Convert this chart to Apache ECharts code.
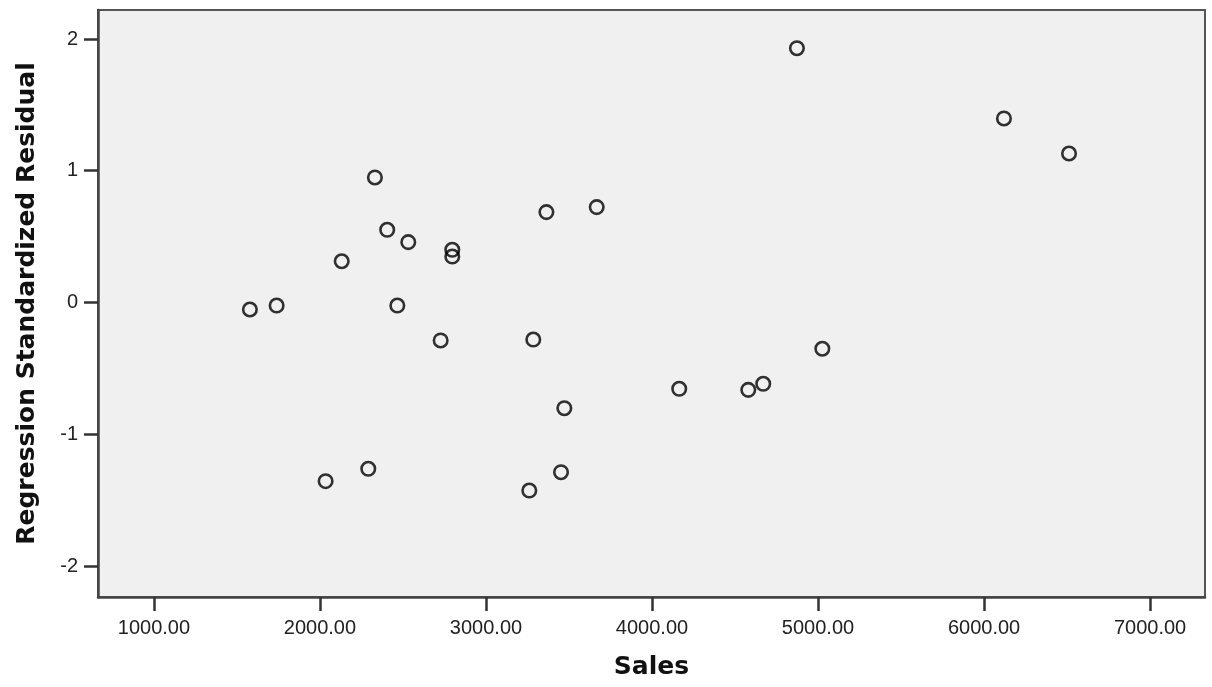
<!DOCTYPE html>
<html>
<head>
<meta charset="utf-8">
<script src="https://cdn.jsdelivr.net/npm/echarts@6/dist/echarts.min.js"></script>
<style>
html,body{margin:0;padding:0;background:#fff;}
#chart{width:1212px;height:687px;}
</style>
</head>
<body>
<div id="chart"></div>
<script>
// Data
const sales = [4873, 6120, 6512, 2331, 2405, 2532, 2797, 2797, 2131, 3364, 3667,
               1578, 1739, 2466, 2727, 3285, 3472, 3452, 3261, 4164, 4580, 4670, 5026, 2034, 2291];
const residuals = [1.93, 1.397, 1.131, 0.949, 0.552, 0.458, 0.40, 0.349, 0.313, 0.686, 0.724,
                   -0.053, -0.023, -0.023, -0.288, -0.281, -0.802, -1.288, -1.427, -0.655, -0.663, -0.617, -0.351, -1.356, -1.262];
const xTicks = [1000, 2000, 3000, 4000, 5000, 6000, 7000];
const yTicks = [-2, -1, 0, 1, 2];
const xTitle = 'Sales';
const yTitle = 'Regression Standardized Residual';

const points = sales.map((s, i) => [s, residuals[i]]);

const chart = echarts.init(document.getElementById('chart'));
const tickStyle = { color: '#333', width: 2.5 };
chart.setOption({
  animation: false,
  grid: {
    left: 98, top: 10, width: 1107, height: 587,
    show: true, backgroundColor: '#f0f0f0', borderColor: '#555', borderWidth: 2
  },
  xAxis: {
    type: 'value', min: 663, max: 7331,
    name: xTitle, nameLocation: 'middle', nameGap: 58,
    nameTextStyle: { fontFamily: 'DejaVu Sans', fontWeight: 'bold', fontSize: 25, color: '#111' },
    axisLine: { show: true, onZero: false, lineStyle: { color: '#444', width: 2.5 } },
    axisTick: { show: true, inside: false, length: 14, lineStyle: tickStyle, customValues: xTicks },
    axisLabel: { margin: 21, fontFamily: 'Liberation Sans', fontSize: 20, color: '#222',
                 customValues: xTicks, formatter: v => v.toFixed(2) },
    splitLine: { show: false }
  },
  yAxis: {
    type: 'value', min: -2.235, max: 2.22,
    name: yTitle, nameLocation: 'middle', nameGap: 58, nameRotate: 90,
    nameTextStyle: { fontFamily: 'DejaVu Sans', fontWeight: 'bold', fontSize: 25, color: '#111' },
    axisLine: { show: true, onZero: false, lineStyle: { color: '#444', width: 2.5 } },
    axisTick: { show: true, inside: false, length: 14, lineStyle: tickStyle, customValues: yTicks },
    axisLabel: { margin: 20, fontFamily: 'Liberation Sans', fontSize: 20, color: '#222',
                 customValues: yTicks, formatter: v => String(v) },
    splitLine: { show: false }
  },
  series: [{
    type: 'scatter',
    data: points,
    symbol: 'circle',
    symbolSize: 13.5,
    itemStyle: { color: 'rgba(0,0,0,0)', borderColor: '#000', borderWidth: 2.6 }
  }]
});
</script>
</body>
</html>
